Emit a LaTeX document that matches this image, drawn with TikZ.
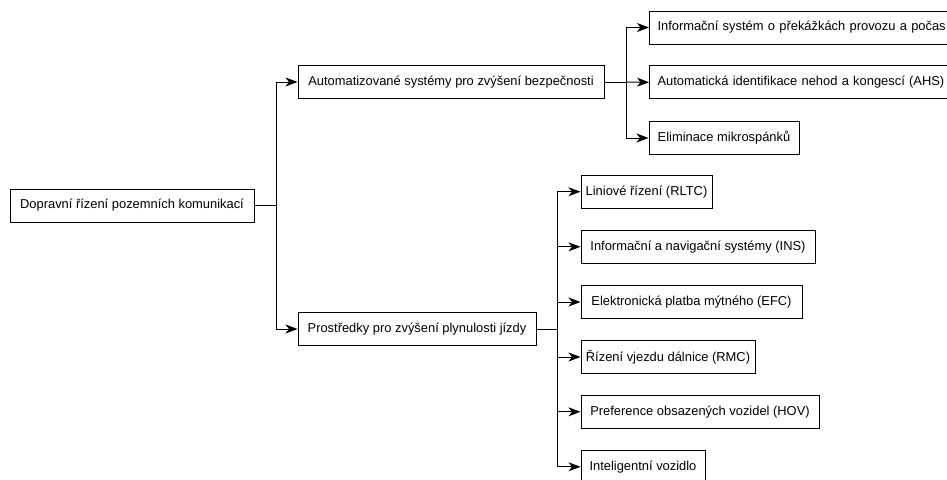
\documentclass[tikz,border=0pt]{standalone}
\usepackage{fontspec}
\setmainfont{Liberation Sans}
\usetikzlibrary{arrows.meta}
\begin{document}
\begin{tikzpicture}[x=1pt,y=-1pt,
  box/.style={draw=black, line width=1pt, fill=white, minimum height=33pt,
    inner xsep=0pt, inner ysep=0pt, font=\fontsize{12.9pt}{15pt}\selectfont},
  lbox/.style={box, anchor=west, align=left, inner xsep=8pt},
  link/.style={line width=1pt},
  arr/.style={link, -{Stealth[length=12pt,width=9pt,inset=3.5pt]}}]
\useasboundingbox (0,0) rectangle (947,479);
\clip (0,0) rectangle (947,479);

% root and first level
\node[box, minimum width=244pt] (root) at (132,205.5) {Dopravní řízení pozemních komunikací};
\node[box, minimum width=306pt] (auto) at (451,82) {Automatizované systémy pro zvýšení bezpečnosti};
\node[box, minimum width=238pt] (prost) at (417,329) {Prostředky pro zvýšení plynulosti jízdy};

% safety systems
\node[lbox, text width=320pt] (a1) at (649,27.5) {Informační systém o překážkách provozu a počas};
\node[lbox, text width=320pt] (a2) at (649,82.3) {Automatická identifikace nehod a kongescí (AHS)};
\node[box, minimum width=150pt] (a3) at (724,138) {Eliminace mikrospánků};

% traffic flow measures
\node[box, minimum width=131pt] (p1) at (646.5,191.7) {Liniové řízení (RLTC)};
\node[box, minimum width=234pt] (p2) at (698,246.8) {Informační a navigační systémy (INS)};
\node[box, minimum width=221pt] (p3) at (691.5,302) {Elektronická platba mýtného (EFC)};
\node[box, minimum width=174pt] (p4) at (668,357) {Řízení vjezdu dálnice (RMC)};
\node[box, minimum width=238pt] (p5) at (700,411.8) {Preference obsazených vozidel (HOV)};
\node[box, minimum width=124pt] (p6) at (643,466.8) {Inteligentní vozidlo};

% junction points
\coordinate (j0) at (276,205.5);
\coordinate (j1) at (626.5,82);
\coordinate (j2) at (557.5,329);

\draw[link] (root.east) -- (j0);
\draw[arr] (j0) |- (auto.west);
\draw[arr] (j0) |- (prost.west);

\draw[link] (auto.east) -- (j1);
\draw[arr] (j1) |- (a1.west);
\draw[arr] (j1) -- (a2.west);
\draw[arr] (j1) |- (a3.west);

\draw[link] (prost.east) -- (j2);
\foreach \n in {p1,p2,p3,p4,p5,p6}
  \draw[arr] (j2) |- (\n.west);
\end{tikzpicture}
\end{document}
